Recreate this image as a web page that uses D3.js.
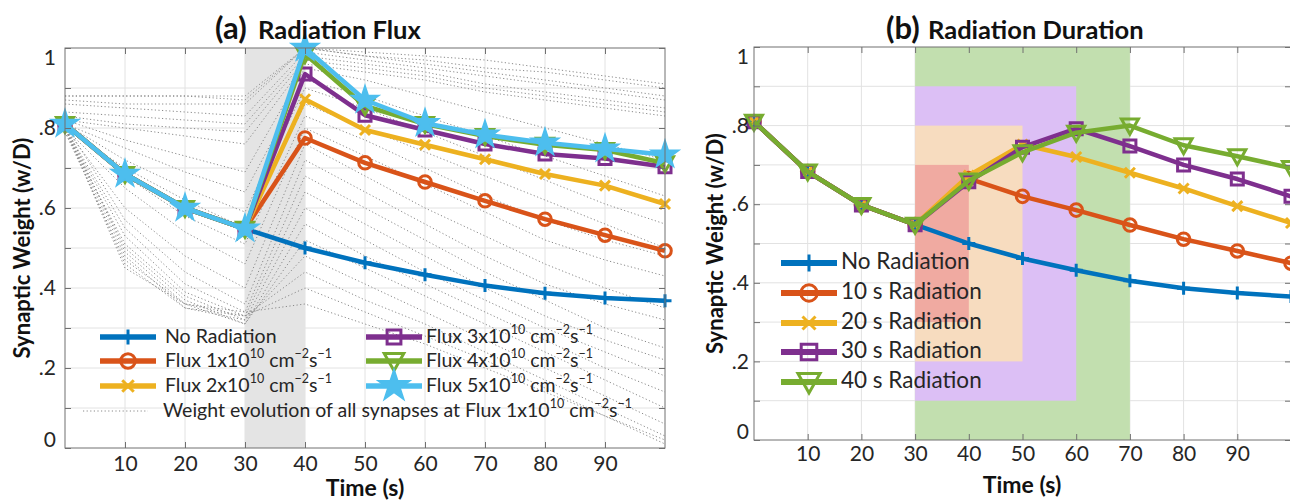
<!DOCTYPE html>
<html>
<head>
<meta charset="utf-8">
<script src="https://cdn.jsdelivr.net/npm/d3@7"></script>
<style>
  body { margin: 0; background: #fff; }
  svg { display: block; }
</style>
</head>
<body>
<svg id="chart" width="1290" height="501"></svg>
<script>
// ---------- data ----------
const time = [0, 10, 20, 30, 40, 50, 60, 70, 80, 90, 100];
const xTicks = [10, 20, 30, 40, 50, 60, 70, 80, 90];
const yTicks = [0, 0.1, 0.2, 0.3, 0.4, 0.5, 0.6, 0.7, 0.8, 0.9, 1];
const yLabelValues = [0, 0.2, 0.4, 0.6, 0.8, 1];
const yTickLabels = ["0", ".2", ".4", ".6", ".8", "1"];

// (a) weight vs. time for different radiation fluxes (radiation from 30 s to 40 s)
const fluxNone = [0.81, 0.685, 0.60, 0.548, 0.50, 0.463, 0.433, 0.406, 0.387, 0.375, 0.368];
const flux1 = [0.81, 0.685, 0.60, 0.548, 0.775, 0.713, 0.665, 0.618, 0.572, 0.532, 0.493];
const flux2 = [0.81, 0.685, 0.60, 0.548, 0.872, 0.795, 0.758, 0.722, 0.685, 0.656, 0.61];
const flux3 = [0.81, 0.685, 0.60, 0.548, 0.935, 0.832, 0.795, 0.76, 0.735, 0.724, 0.703];
const flux4 = [0.81, 0.685, 0.60, 0.548, 0.985, 0.855, 0.81, 0.78, 0.758, 0.745, 0.712];
const flux5 = [0.81, 0.685, 0.60, 0.548, 1.0, 0.87, 0.812, 0.783, 0.763, 0.748, 0.733];
const fluxWindow = [30, 40];

// individual synapse traces at flux 1x10^10
const synapseTraces = [
  [0.88, 0.88, 0.88, 0.88, 1.00, 0.99, 0.98, 0.97, 0.95, 0.93, 0.91],
  [0.88, 0.88, 0.88, 0.87, 1.00, 0.98, 0.97, 0.95, 0.94, 0.92, 0.90],
  [0.87, 0.86, 0.86, 0.86, 1.00, 0.98, 0.96, 0.94, 0.92, 0.90, 0.88],
  [0.86, 0.85, 0.84, 0.83, 0.99, 0.97, 0.95, 0.93, 0.91, 0.89, 0.87],
  [0.84, 0.83, 0.82, 0.81, 0.98, 0.96, 0.94, 0.91, 0.89, 0.87, 0.85],
  [0.83, 0.81, 0.80, 0.79, 0.97, 0.95, 0.93, 0.90, 0.88, 0.86, 0.84],
  [0.82, 0.80, 0.78, 0.76, 0.96, 0.94, 0.92, 0.89, 0.87, 0.85, 0.83],
  [0.82, 0.77, 0.73, 0.69, 0.95, 0.92, 0.88, 0.84, 0.80, 0.76, 0.72],
  [0.81, 0.75, 0.69, 0.64, 0.92, 0.88, 0.83, 0.78, 0.73, 0.68, 0.63],
  [0.81, 0.72, 0.65, 0.59, 0.90, 0.85, 0.79, 0.73, 0.67, 0.61, 0.56],
  [0.80, 0.70, 0.62, 0.55, 0.86, 0.80, 0.74, 0.68, 0.62, 0.56, 0.50],
  [0.81, 0.68, 0.58, 0.51, 0.83, 0.77, 0.70, 0.63, 0.57, 0.52, 0.48],
  [0.80, 0.65, 0.54, 0.46, 0.80, 0.73, 0.66, 0.59, 0.52, 0.47, 0.43],
  [0.80, 0.60, 0.48, 0.40, 0.76, 0.68, 0.60, 0.53, 0.46, 0.40, 0.35],
  [0.81, 0.57, 0.44, 0.36, 0.72, 0.64, 0.56, 0.48, 0.41, 0.36, 0.32],
  [0.80, 0.55, 0.41, 0.34, 0.68, 0.60, 0.52, 0.44, 0.37, 0.30, 0.25],
  [0.80, 0.53, 0.39, 0.33, 0.64, 0.56, 0.48, 0.40, 0.33, 0.27, 0.22],
  [0.79, 0.51, 0.38, 0.32, 0.60, 0.52, 0.44, 0.37, 0.30, 0.24, 0.18],
  [0.80, 0.50, 0.37, 0.31, 0.56, 0.48, 0.41, 0.34, 0.27, 0.20, 0.14],
  [0.81, 0.49, 0.36, 0.31, 0.52, 0.45, 0.38, 0.31, 0.24, 0.17, 0.10],
  [0.80, 0.48, 0.35, 0.32, 0.48, 0.41, 0.34, 0.27, 0.20, 0.13, 0.06],
  [0.79, 0.47, 0.36, 0.33, 0.44, 0.37, 0.31, 0.24, 0.17, 0.10, 0.03],
  [0.80, 0.46, 0.35, 0.33, 0.40, 0.34, 0.28, 0.22, 0.15, 0.08, 0.02],
  [0.80, 0.45, 0.36, 0.34, 0.36, 0.31, 0.26, 0.20, 0.14, 0.08, 0.01]
];

// (b) weight vs. time for different radiation durations (starting at 30 s)
const durNone = [0.81, 0.683, 0.598, 0.548, 0.50, 0.462, 0.432, 0.405, 0.386, 0.374, 0.365];
const dur10 = [0.81, 0.683, 0.598, 0.548, 0.665, 0.62, 0.585, 0.547, 0.511, 0.481, 0.45];
const dur20 = [0.81, 0.683, 0.598, 0.548, 0.673, 0.752, 0.72, 0.68, 0.64, 0.595, 0.552];
const dur30 = [0.81, 0.683, 0.598, 0.548, 0.657, 0.745, 0.792, 0.748, 0.70, 0.664, 0.62];
const dur40 = [0.81, 0.683, 0.598, 0.548, 0.66, 0.732, 0.782, 0.80, 0.75, 0.722, 0.692];
// radiation windows: start, end and the band of weight they are shown over
const windowStart = [30, 30, 30, 30];
const windowEnd = [70, 60, 50, 40];
const windowLow = [0, 0.1, 0.2, 0.3];
const windowHigh = [1, 0.9, 0.8, 0.7];

const legendA = [
  "No Radiation",
  "Flux 1x10^{10} cm^{−2}s^{−1}",
  "Flux 2x10^{10} cm^{−2}s^{−1}",
  "Flux 3x10^{10} cm^{−2}s^{−1}",
  "Flux 4x10^{10} cm^{−2}s^{−1}",
  "Flux 5x10^{10} cm^{−2}s^{−1}"
];
const traceLabel = "Weight evolution of all synapses at Flux 1x10^{10} cm^{−2}s^{−1}";
const legendB = ["No Radiation", "10 s Radiation", "20 s Radiation", "30 s Radiation", "40 s Radiation"];

// ---------- style ----------
const FONT = "Lato, 'Open Sans', 'DejaVu Sans', sans-serif";
const COLORS = ["#0072BD", "#D95319", "#EDB120", "#7E2F8E", "#77AC30", "#4DBEEE"];
const MARKERS = ["plus", "circle", "x", "square", "triangle", "star"];
const WINDOW_COLORS = ["#c2dfaf", "#dcbff5", "#f7dcbf", "#f0aaa1"];
const TEXT = "#262626";
const AXIS = "#707070";
const GRID = "#e2e2e2";

const svg = d3.select("#chart");

function markerPath(kind, s) {
  switch (kind) {
    case "plus": return `M${-6.5 * s},0H${6.5 * s}M0,${-6.5 * s}V${6.5 * s}`;
    case "circle": return d3.symbol(d3.symbolCircle, Math.PI * 6.3 * 6.3 * s * s)();
    case "x": return `M${-5 * s},${-5 * s}L${5 * s},${5 * s}M${-5 * s},${5 * s}L${5 * s},${-5 * s}`;
    case "square": return `M${-6 * s},${-6 * s}H${6 * s}V${6 * s}H${-6 * s}Z`;
    case "triangle": return `M${-8.5 * s},${-6.5 * s}H${8.5 * s}L0,${8.5 * s}Z`;
    case "star": return d3.symbol(d3.symbolStar, 240 * s * s)();
  }
}

function styleMarker(sel, kind, color, s = 1) {
  sel.attr("d", () => markerPath(kind, s))
    .attr("fill", kind === "star" ? color : "none")
    .attr("stroke", color)
    .attr("stroke-width", kind === "star" ? 1.5 : 3)
    .attr("stroke-linejoin", "miter");
}

// text with ^{...} superscripts
function richText(sel, str, fs) {
  const parts = str.split(/\^\{([^}]*)\}/);
  parts.forEach((p, i) => {
    if (p === "") return;
    const sup = i % 2 === 1;
    const t = sel.append("tspan").text(p);
    if (sup) {
      t.attr("font-size", fs * 0.64).attr("dy", -fs * 0.42);
    } else {
      t.attr("font-size", fs);
      if (i > 0) t.attr("dy", fs * 0.42);
    }
  });
}

function makePanel(cfg) {
  const g = svg.append("g");
  const x = d3.scaleLinear().domain([0, 100]).range([cfg.left, cfg.right]);
  const y = d3.scaleLinear().domain([0, 1]).range([cfg.bottom, cfg.top]);

  const grid = g.append("g");
  grid.selectAll("line.v").data(xTicks).join("line").attr("class", "v")
    .attr("x1", d => x(d)).attr("x2", d => x(d))
    .attr("y1", cfg.top).attr("y2", cfg.bottom)
    .attr("stroke", GRID).attr("stroke-width", 1);
  grid.selectAll("line.h").data(yTicks.slice(1, -1)).join("line").attr("class", "h")
    .attr("x1", cfg.left).attr("x2", cfg.right)
    .attr("y1", d => y(d)).attr("y2", d => y(d))
    .attr("stroke", GRID).attr("stroke-width", 1);

  const plot = g.append("g");
  const over = g.append("g");
  return { g, x, y, cfg, plot, over };
}

function drawAxes(p, opt) {
  const { g, x, y, cfg } = p;
  const fs = opt.tickFont;
  const bottom = g.append("g").attr("transform", `translate(0,${cfg.bottom})`)
    .call(d3.axisBottom(x).tickValues(xTicks).tickSize(-6).tickPadding(opt.xPad).tickFormat(d3.format("d")));
  const top = g.append("g").attr("transform", `translate(0,${cfg.top})`)
    .call(d3.axisTop(x).tickValues(xTicks).tickSize(-6).tickFormat(""));
  const left = g.append("g").attr("transform", `translate(${cfg.left},0)`)
    .call(d3.axisLeft(y).tickValues(yTicks).tickSize(-6).tickPadding(opt.yPad)
      .tickFormat(v => {
        const k = yLabelValues.findIndex(u => Math.abs(u - v) < 1e-6);
        return k < 0 ? "" : yTickLabels[k];
      }));
  const right = g.append("g").attr("transform", `translate(${cfg.right},0)`)
    .call(d3.axisRight(y).tickValues(yTicks).tickSize(-6).tickFormat(""));
  [bottom, top, left, right].forEach(a => {
    a.select(".domain").remove();
    a.selectAll("line").attr("stroke", AXIS);
    a.attr("font-family", FONT).attr("font-size", fs);
    a.selectAll("text").attr("fill", TEXT);
  });
  // keep the end labels inside the frame
  left.selectAll(".tick text")
    .attr("dy", v => Math.abs(v - 1) < 1e-6 ? "0.8em" : (Math.abs(v) < 1e-6 ? "-0.05em" : "0.32em"));
  g.append("rect")
    .attr("x", cfg.left).attr("y", cfg.top)
    .attr("width", cfg.right - cfg.left).attr("height", cfg.bottom - cfg.top)
    .attr("fill", "none").attr("stroke", AXIS).attr("stroke-width", 1);
}

function drawSeries(p, values, k) {
  const line = d3.line().x((d, i) => p.x(time[i])).y(d => p.y(d));
  p.over.append("path").datum(values)
    .attr("d", line).attr("fill", "none")
    .attr("stroke", COLORS[k]).attr("stroke-width", 4.5)
    .attr("stroke-linejoin", "round");
  p.over.append("g").selectAll("path").data(values).join("path")
    .attr("transform", (d, i) => `translate(${p.x(time[i])},${p.y(d)})`)
    .call(styleMarker, MARKERS[k], COLORS[k]);
}

function legendItem(g, x0, x1, gap, yc, k, label, fs, lw, ms) {
  g.append("line").attr("x1", x0).attr("x2", x1).attr("y1", yc).attr("y2", yc)
    .attr("stroke", COLORS[k]).attr("stroke-width", lw);
  g.append("path").attr("transform", `translate(${(x0 + x1) / 2},${yc})`)
    .call(styleMarker, MARKERS[k], COLORS[k], ms);
  const t = g.append("text").attr("x", x1 + gap).attr("y", yc).attr("dy", "0.35em")
    .attr("font-family", FONT).attr("fill", TEXT);
  richText(t, label, fs);
}

function title(xA, xB, yb, tag, name) {
  svg.append("text").attr("x", xA).attr("y", yb)
    .attr("font-family", FONT).attr("font-weight", 700).attr("font-size", 31)
    .attr("fill", "#111").text(tag);
  svg.append("text").attr("x", xB).attr("y", yb)
    .attr("font-family", FONT).attr("font-weight", 700).attr("font-size", 25.5)
    .attr("fill", "#111").text(name);
}

function axisTitles(p, xl, yl) {
  const { cfg } = p;
  svg.append("text").attr("x", (cfg.left + Math.min(cfg.right, 1290)) / 2).attr("y", xl)
    .attr("text-anchor", "middle").attr("font-family", FONT).attr("font-weight", 700)
    .attr("font-size", 23).attr("fill", "#111").text("Time (s)");
  svg.append("text")
    .attr("transform", `translate(${yl},${(cfg.top + cfg.bottom) / 2}) rotate(-90)`)
    .attr("text-anchor", "middle").attr("font-family", FONT).attr("font-weight", 700)
    .attr("font-size", 22).attr("fill", "#111").text("Synaptic Weight (w/D)");
}

// ---------- panel (a) ----------
const pa = makePanel({ left: 65, right: 665, top: 48, bottom: 448 });
pa.plot.append("rect")
  .attr("x", pa.x(fluxWindow[0])).attr("y", pa.y(1))
  .attr("width", pa.x(fluxWindow[1]) - pa.x(fluxWindow[0]))
  .attr("height", pa.y(0) - pa.y(1))
  .attr("fill", "#e4e4e4");
const traceLine = d3.line().x((d, i) => pa.x(time[i])).y(d => pa.y(d));
pa.over.append("g").selectAll("path").data(synapseTraces).join("path")
  .attr("d", traceLine).attr("fill", "none")
  .attr("stroke", "#8a8a8a").attr("stroke-width", 1)
  .attr("stroke-dasharray", "1.2,2.4");
[fluxNone, flux1, flux2, flux3, flux4, flux5].forEach((s, k) => drawSeries(pa, s, k));
drawAxes(pa, { tickFont: 21, xPad: 8, yPad: 9 });

const legA = svg.append("g");
const rowsA = [337, 361, 386];
legendA.forEach((lab, k) => {
  const col = Math.floor(k / 3), row = k % 3;
  const x0 = col === 0 ? 100 : 366;
  legendItem(legA, x0, x0 + 56, col === 0 ? 9 : 4, rowsA[row], k, lab, 19.5, 5.5, 1.15);
});
legA.append("line").attr("x1", 83).attr("x2", 148).attr("y1", 411).attr("y2", 411)
  .attr("stroke", "#8a8a8a").attr("stroke-width", 1).attr("stroke-dasharray", "1.2,2.4");
const tl = legA.append("text").attr("x", 163).attr("y", 411).attr("dy", "0.35em")
  .attr("font-family", FONT).attr("fill", TEXT);
richText(tl, traceLabel, 19.5);

title(215, 258, 39, "(a)", "Radiation Flux");
axisTitles(pa, 496, 30);

// ---------- panel (b) ----------
const pb = makePanel({ left: 754, right: 1291, top: 47, bottom: 440 });
windowEnd.forEach((e, k) => {
  pb.plot.append("rect")
    .attr("x", pb.x(windowStart[k])).attr("y", pb.y(windowHigh[k]))
    .attr("width", pb.x(e) - pb.x(windowStart[k]))
    .attr("height", pb.y(windowLow[k]) - pb.y(windowHigh[k]))
    .attr("fill", WINDOW_COLORS[k]);
});
[durNone, dur10, dur20, dur30, dur40].forEach((s, k) => drawSeries(pb, s, k));
drawAxes(pb, { tickFont: 21, xPad: 6, yPad: 5 });

const legB = svg.append("g");
const rowsB = [263, 293, 323, 352, 382];
legendB.forEach((lab, k) => legendItem(legB, 781, 837, 4, rowsB[k], k, lab, 22.5, 6, 1.3));

title(886, 928, 39, "(b)", "Radiation Duration");
axisTitles(pb, 493, 723);
</script>
</body>
</html>
